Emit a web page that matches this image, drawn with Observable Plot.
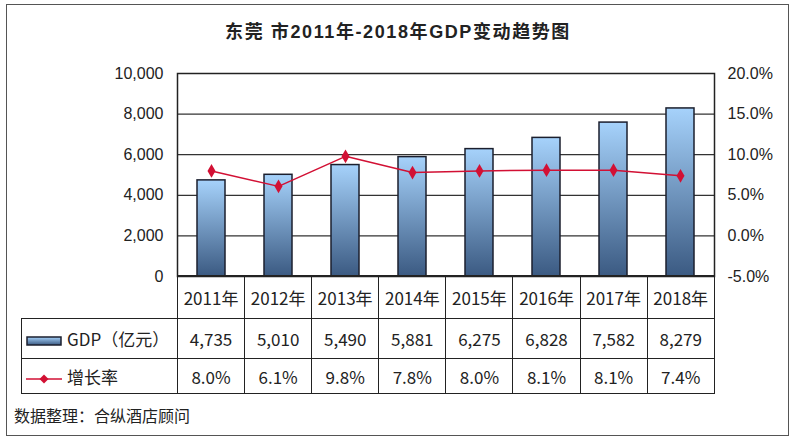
<!DOCTYPE html>
<html>
<head>
<meta charset="utf-8">
<script src="https://cdn.jsdelivr.net/npm/d3@7"></script>
<script src="https://cdn.jsdelivr.net/npm/@observablehq/plot@0.6"></script>
<style>
  html, body { margin: 0; padding: 0; background: #fff; }
  #root { position: relative; width: 800px; height: 445px; overflow: hidden; background: #fff; }
  #frame { position: absolute; left: 6px; top: 4px; width: 781px; height: 430px; border: 1.5px solid #555; }
  #title { position: absolute; left: 0; width: 796px; top: 17px; text-align: center;
    font-family: "Liberation Sans", "Noto Sans CJK SC", sans-serif; font-weight: bold; font-size: 18px;
    letter-spacing: 1.6px; color: #222; }
  #chart { position: absolute; left: 0; top: 55px; }
  #tbl { position: absolute; left: 21px; top: 275px; border-collapse: collapse; table-layout: fixed;
    font-family: "Noto Sans CJK SC", sans-serif; color: #222; }
  #tbl td { border: 1.5px solid #222; text-align: center; padding: 0; font-size: 17px; }
  #tbl tr.yr td { height: 42px; }
  #tbl tr.gdp td { height: 39px; }
  #tbl tr.rate td { height: 34px; }
  #tbl tr.yr td.blank { border-top: none; border-left: none; }
  #tbl td.lab { text-align: left; padding-left: 4px; white-space: nowrap; }
  #tbl td.lab svg { vertical-align: middle; margin-right: 5px; }
  #caption { position: absolute; left: 14px; top: 403px; font-family: "Noto Sans CJK SC", sans-serif;
    font-size: 16px; color: #222; }
</style>
</head>
<body>
<div id="root">
  <div id="frame"></div>
  <div id="title"></div>
  <div id="chart"></div>
  <table id="tbl"></table>
  <div id="caption"></div>
</div>
<script>
// ---- data ----
const years = ["2011年", "2012年", "2013年", "2014年", "2015年", "2016年", "2017年", "2018年"];
const gdp = [4735, 5010, 5490, 5881, 6275, 6828, 7582, 8279];
const rate = [8.0, 6.1, 9.8, 7.8, 8.0, 8.1, 8.1, 7.4];
const gdpTicks = [0, 2000, 4000, 6000, 8000, 10000];
const rateTicks = [-5, 0, 5, 10, 15, 20];
const titleText = "东莞 市2011年-2018年GDP变动趋势图";
const gdpLabel = "GDP（亿元）";
const rateLabel = "增长率";
const captionText = "数据整理：合纵酒店顾问";

const red = "#d21034";
const rows = years.map((y, i) => ({year: y, gdp: gdp[i], rate: rate[i]}));
// map rate (%) onto left axis domain: -5% -> 0, 20% -> 10000
const rateToLeft = r => (r + 5) / 25 * 10000;
const leftToRate = v => v / 10000 * 25 - 5;

document.getElementById("title").textContent = titleText;
document.getElementById("caption").textContent = captionText;

const chart = Plot.plot({
  width: 800,
  height: 236,
  marginLeft: 177,
  marginRight: 86,
  marginTop: 18,
  marginBottom: 15,
  style: {fontFamily: "'Liberation Sans', Arial, sans-serif", fontSize: "16px", color: "#222", background: "transparent", overflow: "visible"},
  x: {type: "band", domain: years, paddingInner: 0.58, paddingOuter: 0.29, axis: null},
  y: {domain: [0, 10000]},
  marks: [
    Plot.gridY(gdpTicks, {stroke: "#333", strokeOpacity: 1, strokeWidth: 1.2}),
    Plot.barY(rows, {x: "year", y: "gdp", fill: "url(#barGrad)", stroke: "#1b1f2e", strokeWidth: 1.5}),
    Plot.line(rows, {x: "year", y: d => rateToLeft(d.rate), stroke: red, strokeWidth: 1.5}),
    Plot.dot(rows, {x: "year", y: d => rateToLeft(d.rate), symbol: "diamond", r: 4.2, fill: red}),
    Plot.frame({stroke: "#222", strokeWidth: 1.5}),
    Plot.axisY({anchor: "left", ticks: gdpTicks, tickFormat: d3.format(","), tickSize: 0, tickPadding: 14, label: null}),
    Plot.axisY({anchor: "right", ticks: rateTicks.map(rateToLeft), tickFormat: v => leftToRate(v).toFixed(1) + "%", tickSize: 0, tickPadding: 13, label: null})
  ]
});

// gradient definition for bars
const defs = d3.select(chart).insert("defs", ":first-child");
const g = defs.append("linearGradient").attr("id", "barGrad").attr("x1", 0).attr("y1", 0).attr("x2", 0).attr("y2", 1);
g.append("stop").attr("offset", "0%").attr("stop-color", "#a6d2fb");
g.append("stop").attr("offset", "100%").attr("stop-color", "#3b5a82");
document.getElementById("chart").appendChild(chart);

// ---- data table below ----
const tbl = d3.select("#tbl");
const colg = tbl.append("colgroup");
colg.append("col").style("width", "156px");
years.forEach(() => colg.append("col").style("width", "67.1px"));

const r1 = tbl.append("tr").attr("class", "yr");
r1.append("td").attr("class", "blank");
years.forEach(y => r1.append("td").text(y));

const r2 = tbl.append("tr").attr("class", "gdp");
const l2 = r2.append("td").attr("class", "lab");
l2.html(`<svg width="36" height="10"><defs><linearGradient id="legGrad" x1="0" y1="0" x2="0" y2="1"><stop offset="0%" stop-color="#a6d2fb"/><stop offset="100%" stop-color="#3b5a82"/></linearGradient></defs><rect x="1" y="1" width="34" height="8" fill="url(#legGrad)" stroke="#1b1f2e" stroke-width="1.5"/></svg>`);
l2.append("span").text(gdpLabel);
gdp.forEach(v => r2.append("td").text(d3.format(",")(v)));

const r3 = tbl.append("tr").attr("class", "rate");
const l3 = r3.append("td").attr("class", "lab");
l3.html(`<svg width="36" height="10"><line x1="0" x2="36" y1="5" y2="5" stroke="${red}" stroke-width="1.5"/><path d="M18,0.5L22.5,5L18,9.5L13.5,5Z" fill="${red}"/></svg>`);
l3.append("span").text(rateLabel);
rate.forEach(v => r3.append("td").text(v.toFixed(1) + "%"));
</script>
</body>
</html>
